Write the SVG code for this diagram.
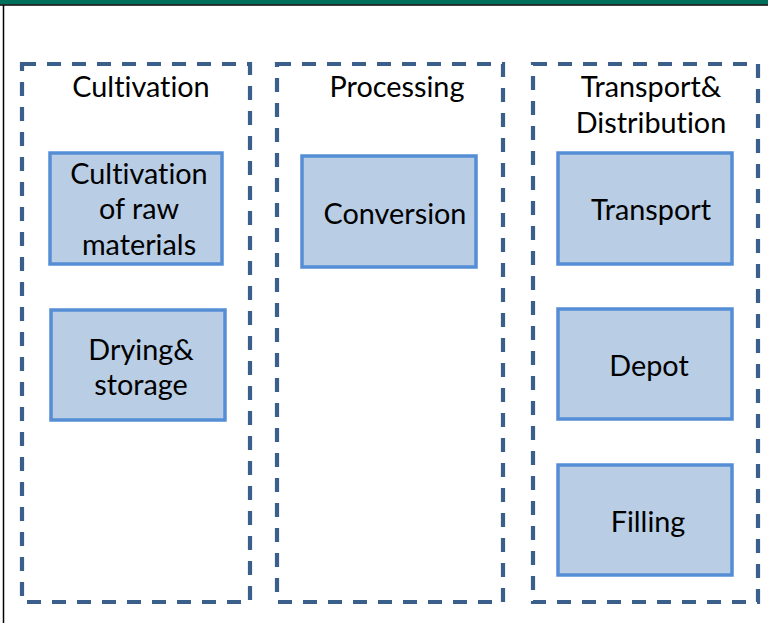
<svg xmlns="http://www.w3.org/2000/svg" width="768" height="623" viewBox="0 0 768 623">
<style>
.grp{fill:none;stroke:#3b5f8b;stroke-width:4.2;stroke-dasharray:14 11}
.node{fill:#b9cde5;stroke:#558ed5;stroke-width:3.5}
text{font-family:Lato,"Open Sans","Liberation Sans",sans-serif;font-size:28.8px;fill:#000;text-anchor:middle;font-variant-ligatures:none;font-feature-settings:"liga" 0}
</style>
<rect x="0" y="0" width="768" height="623" fill="#ffffff"/>
<rect x="0" y="0" width="768" height="4.5" fill="#00705a"/>
<line x1="0" y1="5" x2="768" y2="5" stroke="#000" stroke-width="1.5"/>
<line x1="3.5" y1="5" x2="3.5" y2="623" stroke="#000" stroke-width="1.5"/>
<g id="group-cultivation">
<rect class="grp" x="22" y="64" width="228" height="538"/>
<text x="141" y="97">Cultivation</text>
</g>
<g id="group-processing">
<rect class="grp" x="277" y="64" width="226" height="538"/>
<text x="397" y="97">Processing</text>
</g>
<g id="group-transport">
<rect class="grp" x="533" y="64" width="225" height="538"/>
<text x="651" y="97">Transport&amp;</text>
<text x="651" y="133">Distribution</text>
</g>
<g id="node-cultivation-raw">
<rect class="node" x="50" y="153" width="172" height="111"/>
<text x="139" y="184">Cultivation</text>
<text x="139" y="219">of raw</text>
<text x="139" y="255">materials</text>
</g>
<g id="node-drying">
<rect class="node" x="51" y="310" width="174" height="110"/>
<text x="141" y="360">Drying&amp;</text>
<text x="141" y="395">storage</text>
</g>
<g id="node-conversion">
<rect class="node" x="302" y="156" width="174" height="111"/>
<text x="395" y="224">Conversion</text>
</g>
<g id="node-transport">
<rect class="node" x="558" y="153" width="174" height="111"/>
<text x="651" y="220">Transport</text>
</g>
<g id="node-depot">
<rect class="node" x="558" y="309" width="174" height="110"/>
<text x="649" y="376">Depot</text>
</g>
<g id="node-filling">
<rect class="node" x="558" y="465" width="174" height="110"/>
<text x="648" y="532">Filling</text>
</g>
<g id="connectors"></g>
</svg>
